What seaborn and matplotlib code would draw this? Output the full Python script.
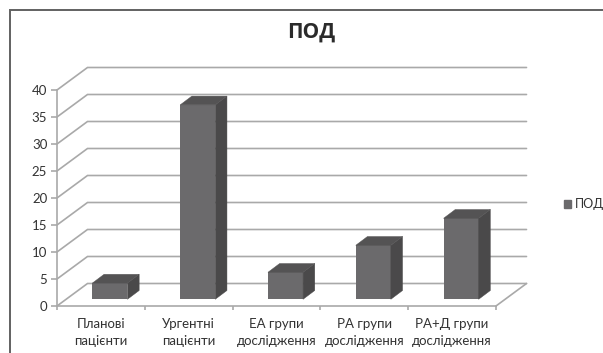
import matplotlib
matplotlib.use("Agg")
import matplotlib.pyplot as plt
from matplotlib.lines import Line2D
from matplotlib.patches import Patch, Polygon
import pandas as pd
import seaborn as sns

categories = ["Планові\nпацієнти", "Ургентні\nпацієнти", "ЕА групи\nдослідження",
              "РА групи\nдослідження", "РА+Д групи\nдослідження"]
values = [3, 36, 5, 10, 15]
series_name = "ПОД"
y_ticks = [0, 5, 10, 15, 20, 25, 30, 35, 40]

W, H = 603, 353
FRONT = "#6b6a6c"
SIDE = "#4a494a"
TOP = "#545354"
GRID = "#a9a9a9"
TEXT = "#333333"
FRAME = "#616161"

sns.set_theme(style="white")
plt.rcParams["font.family"] = ["Lato", "DejaVu Sans"]

fig = plt.figure(figsize=(W / 100, H / 100), dpi=100, facecolor="white")
left, right, top, bottom = 57, 496, 90, 306
ax = fig.add_axes([left / W, 1 - bottom / H, (right - left) / W, (bottom - top) / H])
ax.patch.set_alpha(0)

cat_px = (right - left) / len(categories)
unit_px = (bottom - top) / 40


def dx(px):
    return px / cat_px


def dy(px):
    return px / unit_px


# Oblique box: back wall and floor sit behind the front axis plane
depth_x, depth_y = dx(30.5), dy(22.5)
x0, x1 = -0.5, len(categories) - 0.5
for v in y_ticks:
    ax.plot([x0, x0 + depth_x, x1 + depth_x], [v, v + depth_y, v + depth_y],
            color=GRID, lw=1.2, clip_on=False, zorder=1, solid_joinstyle="miter")
ax.plot([x1, x1 + depth_x], [0, depth_y], color=GRID, lw=1.2, clip_on=False, zorder=1)

df = pd.DataFrame({"category": categories, "value": values})
sns.barplot(data=df, x="category", y="value", color=FRONT, saturation=1, width=0.4,
            ax=ax, zorder=3)

# Stand each bar inside the box and add its side and top faces
shift_x, lift = dx(9), dy(6.7)
side_x, side_y = dx(11.7), dy(8.8)
for bar in ax.patches:
    bar.set_x(bar.get_x() + shift_x)
    bar.set_y(lift)
    bar.set_linewidth(0)
    xa, xb = bar.get_x(), bar.get_x() + bar.get_width()
    yb, yt = bar.get_y(), bar.get_y() + bar.get_height()
    ax.add_patch(Polygon([(xb, yb), (xb + side_x, yb + side_y), (xb + side_x, yt + side_y), (xb, yt)],
                         closed=True, fc=SIDE, ec=SIDE, lw=0.3, clip_on=False, zorder=3))
    ax.add_patch(Polygon([(xa, yt), (xb, yt), (xb + side_x, yt + side_y), (xa + side_x, yt + side_y)],
                         closed=True, fc=TOP, ec=TOP, lw=0.3, clip_on=False, zorder=3))

ax.set_xlim(x0, x1)
ax.set_ylim(0, 40)
ax.set_xlabel("")
ax.set_ylabel("")
ax.set_yticks(y_ticks)
ax.set_xticks(range(len(categories)))
ax.set_xticklabels(categories, linespacing=1.45)
ax.set_xticks([x0 + i for i in range(len(categories) + 1)], minor=True)
ax.tick_params(axis="y", length=4, width=1.2, color=GRID, labelcolor=TEXT, labelsize=9.5, pad=3, left=True)
ax.tick_params(axis="x", which="major", length=0, labelcolor=TEXT, labelsize=9.5, pad=9)
ax.tick_params(axis="x", which="minor", length=3, width=1.2, color=GRID, bottom=True)
for name in ("top", "right"):
    ax.spines[name].set_visible(False)
for name in ("left", "bottom"):
    ax.spines[name].set_color(GRID)
    ax.spines[name].set_linewidth(1.2)

fig.text(311 / W, 1 - 32 / H, series_name, ha="center", va="center", family="Open Sans",
         fontsize=15, fontweight="bold", color="#2b2b2b")

fig.legend(handles=[Patch(color=FRONT, label=series_name)], loc="center left",
           bbox_to_anchor=(564 / W, 1 - 204.5 / H), frameon=False, fontsize=9,
           labelcolor=TEXT, handlelength=0.56, handleheight=0.56, handletextpad=0.3,
           borderpad=0, borderaxespad=0)

# Chart frame: only its top and left edges fall inside the canvas
fig.add_artist(Line2D([10 / W, 10 / W, 1], [0, 1 - 10 / H, 1 - 10 / H],
                      color=FRAME, lw=1.4, solid_joinstyle="miter"))

fig.savefig("out.png", dpi=100, facecolor="white")
